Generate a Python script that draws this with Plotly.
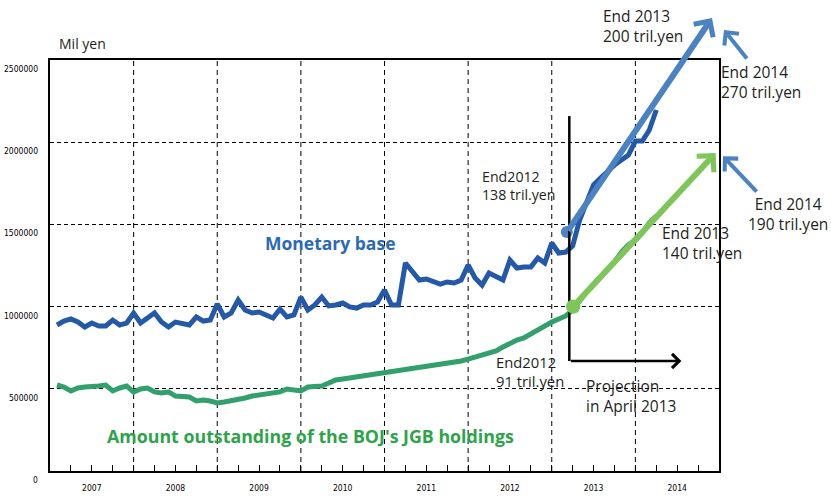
import plotly.graph_objects as go

# ---------------- data (monthly, Jan 2007 - Mar 2014, unit: 100 mil yen) ----------------
start_year = 2007
monetary_base = [
    888000, 912000, 925000, 906000, 876000, 900000, 882000, 882000, 918000, 888000, 900000, 961000,
    900000, 931000, 961000, 906000, 876000, 906000, 894000, 888000, 937000, 912000, 918000, 1016000,
    937000, 961000, 1040000, 979000, 961000, 967000, 949000, 931000, 985000, 937000, 949000, 1058000,
    979000, 1010000, 1058000, 1004000, 1010000, 1022000, 998000, 991000, 1010000, 1010000, 1028000, 1101000,
    1010000, 1010000, 1265000, 1210000, 1162000, 1168000, 1150000, 1137000, 1150000, 1144000, 1162000, 1253000,
    1174000, 1131000, 1204000, 1180000, 1162000, 1283000, 1235000, 1241000, 1241000, 1296000, 1265000, 1387000,
    1326000, 1332000, 1369000, 1527000, 1630000, 1740000, 1782000, 1825000, 1861000, 1892000, 1922000, 2007000,
    2007000, 2074000, 2196000,
]
jgb_holdings = [
    523000, 511000, 487000, 505000, 511000, 511000, 517000, 523000, 487000, 505000, 517000, 480000,
    499000, 505000, 481000, 474000, 481000, 456000, 456000, 450000, 426000, 432000, 426000, 414000,
    420000, 426000, 432000, 444000, 456000, 462000, 474000, 474000, 481000, 499000, 493000, 487000,
    511000, 517000, 517000, 535000, 554000, 560000, 566000, 578000, 584000, 584000, 590000, 596000,
    602000, 614000, 620000, 627000, 633000, 633000, 639000, 645000, 657000, 663000, 669000, 681000,
    693000, 706000, 712000, 730000, 754000, 779000, 797000, 809000, 833000, 858000, 888000, 906000,
    925000, 943000, 979000, 1040000, 1089000, 1137000, 1180000, 1223000, 1271000, 1332000, 1375000, 1405000,
    1448000, 1509000, 1551000,
]
year_labels = ["2007", "2008", "2009", "2010", "2011", "2012", "2013", "2014"]
y_tick_values = [0, 500000, 1000000, 1500000, 2000000, 2500000]

# projection arrows (start point in data units: year, value)
mb_proj_start = (2013.18, 1454000)
jgb_proj_start = (2013.24, 991000)
jgb_proj_end = (2014.96, 1934000)
proj_line_x = 2013.21

# ---------------- styles ----------------
BLUE = "#2359a8"
GREEN = "#31a06c"
LBLUE = "#4a82c2"
LGREEN = "#7ec65a"
TXT = "#231f20"
FONT = "Open Sans, Noto Sans, sans-serif"
NARROW = "Liberation Sans Narrow, DejaVu Sans Condensed, Arial Narrow, sans-serif"

x_month = [start_year + (i + 1) / 12 for i in range(len(monetary_base))]
x_end = start_year + len(year_labels)

fig = go.Figure()
fig.add_trace(go.Scatter(x=x_month, y=monetary_base, mode="lines",
                         line=dict(color=BLUE, width=5), hoverinfo="skip"))
fig.add_trace(go.Scatter(x=x_month, y=jgb_holdings, mode="lines",
                         line=dict(color=GREEN, width=5), hoverinfo="skip"))

# vertical dashed gridlines at year boundaries
for i in range(1, len(year_labels)):
    fig.add_shape(type="line", xref="x", yref="paper", x0=start_year + i, x1=start_year + i,
                  y0=0, y1=1, line=dict(color="black", width=1, dash="5px,4px"), layer="below")

# y tick labels (offset below gridlines as in original)
for v in y_tick_values:
    fig.add_annotation(x=0, xref="paper", y=v, yref="y", text=str(v), showarrow=False,
                       xanchor="right", yanchor="middle", xshift=-10, yshift=-9,
                       font=dict(family=NARROW, size=8.5, color="black"))

def txt(x, y, text, ref="data", color=TXT, size=15.5, bold=False, xanchor="left", align="left"):
    if bold:
        text = "<b>" + text + "</b>"
    xr, yr = ("x", "y") if ref == "data" else ("paper", "paper")
    fig.add_annotation(x=x, y=y, xref=xr, yref=yr, text=text, showarrow=False,
                       xanchor=xanchor, yanchor="middle", align=align,
                       font=dict(family=FONT, size=size, color=color))

txt(0.048, 1.039, "Mil yen", ref="paper", xanchor="center", size=14)
txt(2010.35, 1387000, "Monetary base", color="#2a6ab5", size=17.5, bold=True, xanchor="center")
txt(2010.11, 213000, "Amount outstanding of the BOJ's JGB holdings", color="#2ea34a", size=17.8,
    bold=True, xanchor="center")
txt(2012.14, 1734000, "End2012<br>138 tril.yen", size=14.2)
txt(0.824, 1.083, "End 2013<br>200 tril.yen", ref="paper")
txt(1.0005, 0.946, "End 2014<br>270 tril.yen", ref="paper")
txt(1.103, 0.625, "End 2014<br>190 tril.yen", ref="paper", xanchor="center", align="center")
txt(2014.29, 1387000, "End 2013<br>140 tril.yen")
txt(2012.31, 608000, "End2012<br>91 tril.yen", size=14.8)
txt(2013.39, 456000, "Projection<br>in April 2013")

def arrow_data(tail, head, color, width, size=0.7, start_circle=False, head_style=4):
    fig.add_annotation(x=head[0], y=head[1], ax=tail[0], ay=tail[1], xref="x", yref="y",
                       axref="x", ayref="y", text="", showarrow=True, arrowhead=head_style,
                       arrowsize=size, arrowwidth=width, arrowcolor=color,
                       arrowside="end+start" if start_circle else "end",
                       startarrowhead=6, startarrowsize=0.6)

def arrow_paper(head, dx, dy, color, width, size=0.8, head_style=4):
    fig.add_annotation(x=head[0], y=head[1], xref="paper", yref="paper", ax=dx, ay=dy,
                       text="", showarrow=True, arrowhead=head_style, arrowsize=size,
                       arrowwidth=width, arrowcolor=color)

# projection line (black)
fig.add_shape(type="line", xref="x", yref="y", x0=proj_line_x, x1=proj_line_x,
              y0=2159000, y1=669000, line=dict(color="black", width=2.5))
arrow_data((proj_line_x, 669000), (2014.55, 669000), "black", 2.5, size=1.1, head_style=4)

# monetary base projection: head lies above the plot, so anchor it in paper units
arrow_paper((0.9895, 1.102), -145, 214, LBLUE, 6, size=0.75)
fig.add_trace(go.Scatter(x=[mb_proj_start[0]], y=[mb_proj_start[1]], mode="markers",
                         marker=dict(color=LBLUE, size=12), hoverinfo="skip", cliponaxis=False))
arrow_data(jgb_proj_start, jgb_proj_end, LGREEN, 6, size=0.75, start_circle=True)
arrow_paper((1.0075, 1.073), 24, 30, LBLUE, 4, size=0.9)
arrow_paper((1.006, 0.766), 35, 37, LBLUE, 4, size=0.9)

fig.update_layout(
    width=831, height=496,
    margin=dict(l=50, r=112, t=60, b=25, autoexpand=False),
    paper_bgcolor="white", plot_bgcolor="white",
    showlegend=False,
    font=dict(family=FONT, color=TXT),
    xaxis=dict(
        range=[start_year, x_end],
        automargin=False,
        tickvals=[start_year + i + 0.5 for i in range(len(year_labels))],
        ticktext=year_labels,
        ticks="inside", ticklen=6, tickcolor="black", tickwidth=1,
        minor=dict(dtick=0.25, tick0=start_year, ticks="inside", ticklen=6,
                   tickcolor="black", showgrid=False),
        showgrid=False, zeroline=False,
        showline=True, mirror=True, linecolor="black", linewidth=1.5,
        tickfont=dict(family=NARROW, size=8.5, color="black"),
        ticklabelstandoff=8,
    ),
    yaxis=dict(
        range=[0, 2500000],
        automargin=False,
        tickvals=y_tick_values,
        showticklabels=False, ticks="",
        showgrid=True, gridcolor="black", gridwidth=1, griddash="4px,3px",
        zeroline=False,
        showline=True, mirror=True, linecolor="black", linewidth=1.5,
    ),
)

fig.write_html("out.html", config={"displayModeBar": False},
               post_script="document.body.style.margin='0';")
